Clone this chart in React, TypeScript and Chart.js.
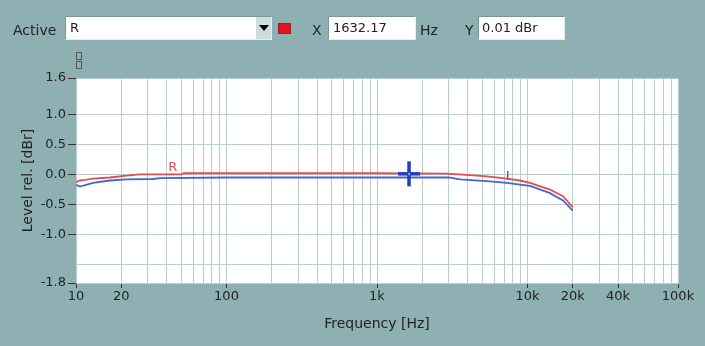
import React, { useEffect, useRef } from "react";
import { Chart, registerables } from "chart.js";

Chart.register(...registerables);

// ---- data ----
const freqR = [10, 10.6, 11.5, 13, 16.8, 21.7, 26.6, 50, 52, 100, 1000, 2900, 4150, 5360, 7300, 8900, 10400, 14100, 17200, 20000];
const levelR = [-0.13, -0.10, -0.09, -0.07, -0.05, -0.02, 0.0, 0.0, 0.02, 0.02, 0.02, 0.015, -0.01, -0.03, -0.07, -0.10, -0.14, -0.25, -0.36, -0.54];

const freqL = [10, 10.6, 13, 16.8, 21.7, 32.4, 36.2, 100, 1000, 3000, 3560, 5360, 7300, 8900, 10400, 14100, 17200, 20000];
const levelL = [-0.17, -0.20, -0.14, -0.10, -0.08, -0.075, -0.06, -0.05, -0.05, -0.05, -0.08, -0.11, -0.14, -0.17, -0.19, -0.31, -0.43, -0.60];

const xTickLabels: Record<number, string> = { 10: "10", 20: "20", 100: "100", 1000: "1k", 10000: "10k", 20000: "20k", 40000: "40k", 100000: "100k" };
const yTicks = [-1.8, -1.5, -1.0, -0.5, 0.0, 0.5, 1.0, 1.6];
const yUnlabeled = [-1.5];

const cursorFreq = 1632.17;
const cursorLevel = 0.01;
const labelRFreq = 44;
const labelRLevel = 0.02;
const labelLFreq = 7300;
const labelLLevel = -0.14;

const decades = [10, 100, 1000, 10000];
const multiples = [1, 2, 3, 4, 5, 6, 7, 8, 9];

const FONT = '"DejaVu Sans", sans-serif';
const BG = "#8fb0b2";
const GRID = "#b9cdd0";
const RED = "#e24d52";
const BLUE = "#4466d0";

const overlay = {
  id: "overlay",
  beforeDraw(chart: any) {
    const { ctx, chartArea: a } = chart;
    ctx.save();
    ctx.fillStyle = "#ffffff";
    ctx.fillRect(a.left, a.top, a.right - a.left, a.bottom - a.top);
    ctx.restore();
  },
  beforeDatasetsDraw(chart: any) {
    const { ctx, scales } = chart;
    const x = scales.x.getPixelForValue(labelLFreq);
    const y = scales.y.getPixelForValue(labelLLevel);
    ctx.save();
    ctx.fillStyle = "#2a44b8";
    ctx.font = `12px ${FONT}`;
    ctx.textAlign = "left";
    ctx.textBaseline = "alphabetic";
    ctx.fillText("L", x - 1, y - 3);
    ctx.restore();
  },
  afterDatasetsDraw(chart: any) {
    const { ctx, scales } = chart;
    ctx.save();
    // R label
    const rx = scales.x.getPixelForValue(labelRFreq);
    const ry = scales.y.getPixelForValue(labelRLevel);
    ctx.fillStyle = RED;
    ctx.font = `13px ${FONT}`;
    ctx.textAlign = "center";
    ctx.textBaseline = "alphabetic";
    ctx.fillText("R", rx, ry - 2);
    // cursor cross
    const cx = scales.x.getPixelForValue(cursorFreq);
    const cy = scales.y.getPixelForValue(cursorLevel);
    ctx.fillStyle = "#1d3fc4";
    ctx.fillRect(cx - 11, cy - 1.75, 22, 3.5);
    ctx.fillRect(cx - 1.75, cy - 12.5, 3.5, 25);
    ctx.fillStyle = "#d98aa0";
    ctx.fillRect(cx - 1, cy - 1, 2, 2);
    ctx.restore();
  },
};

function ChartView() {
  const ref = useRef<HTMLCanvasElement>(null);
  useEffect(() => {
    const gridVals: number[] = [];
    decades.forEach((d) => multiples.forEach((m) => gridVals.push(d * m)));
    gridVals.push(100000);

    const chart = new Chart(ref.current!, {
      type: "line",
      data: {
        datasets: [
          {
            label: "R",
            data: freqR.map((f, i) => ({ x: f, y: levelR[i] })),
            borderColor: RED,
            borderWidth: 1.8,
            pointRadius: 0,
            tension: 0,
          },
          {
            label: "L",
            data: freqL.map((f, i) => ({ x: f, y: levelL[i] })),
            borderColor: BLUE,
            borderWidth: 1.8,
            pointRadius: 0,
            tension: 0,
          },
        ],
      },
      options: {
        animation: false,
        responsive: false,
        devicePixelRatio: 1,
        layout: { padding: { top: 78, right: 27, left: 0, bottom: 0 } },
        plugins: { legend: { display: false }, tooltip: { enabled: false } },
        scales: {
          x: {
            type: "logarithmic",
            min: 10,
            max: 100000,
            afterBuildTicks: (scale: any) => {
              scale.ticks = gridVals.map((v) => ({ value: v }));
            },
            afterFit: (scale: any) => {
              scale.height = 63;
            },
            ticks: {
              autoSkip: false,
              maxRotation: 0,
              padding: 1,
              color: "#222",
              font: { family: FONT, size: 13 },
              callback: (v: any) => xTickLabels[Number(v)] ?? "",
            },
            grid: {
              color: GRID,
              lineWidth: 1,
              tickLength: 5,
              tickColor: (c: any) => (c.tick && xTickLabels[c.tick.value] ? "#333" : "transparent"),
            },
            border: { display: true, color: GRID },
            title: {
              display: true,
              text: "Frequency [Hz]",
              color: "#222",
              font: { family: FONT, size: 14 },
              padding: { top: 0, bottom: 13 },
            },
          },
          y: {
            type: "linear",
            min: -1.8,
            max: 1.6,
            afterBuildTicks: (scale: any) => {
              scale.ticks = yTicks.map((v) => ({ value: v }));
            },
            afterFit: (scale: any) => {
              scale.width = 76;
            },
            ticks: {
              autoSkip: false,
              padding: 2,
              color: "#222",
              font: { family: FONT, size: 13 },
              callback: (v: any) => (yUnlabeled.includes(Number(v)) ? "" : Number(v).toFixed(1)),
            },
            grid: {
              color: GRID,
              lineWidth: 1,
              tickLength: 8,
              tickColor: (c: any) => (c.tick && yUnlabeled.includes(c.tick.value) ? "transparent" : "#333"),
            },
            border: { display: true, color: GRID },
            title: {
              display: true,
              text: "Level rel. [dBr]",
              color: "#222",
              font: { family: FONT, size: 14 },
              padding: { top: 20, bottom: 0 },
            },
          },
        },
      },
      plugins: [overlay],
    } as any);
    return () => chart.destroy();
  }, []);
  return <canvas ref={ref} width={705} height={346} style={{ position: "absolute", left: 0, top: 0, display: "block" }} />;
}

const txt: React.CSSProperties = { position: "absolute", fontFamily: FONT, fontSize: 14, color: "#222", lineHeight: "16px" };
const box: React.CSSProperties = {
  position: "absolute",
  background: "#fff",
  borderTop: "1px solid #7f9496",
  borderLeft: "1px solid #7f9496",
  borderBottom: "1px solid #e4eeee",
  borderRight: "1px solid #e4eeee",
  boxSizing: "border-box",
  fontFamily: FONT,
  fontSize: 13,
  color: "#222",
  lineHeight: "22px",
  paddingLeft: 4,
};

export default function App() {
  return (
    <div style={{ position: "absolute", left: 0, top: 0, width: 705, height: 346, background: BG, overflow: "hidden" }}>
      <ChartView />
      <div style={{ ...txt, left: 13, top: 22 }}>Active</div>
      <div style={{ ...box, left: 65, top: 16, width: 207, height: 24 }}>R</div>
      <div style={{ position: "absolute", left: 256, top: 17, width: 15, height: 22, background: "#cfdcdc" }}>
        <div style={{ position: "absolute", left: 3, top: 8, width: 0, height: 0, borderLeft: "5px solid transparent", borderRight: "5px solid transparent", borderTop: "6px solid #000" }} />
      </div>
      <div style={{ position: "absolute", left: 278, top: 23, width: 13, height: 11, background: "#e8101c", boxSizing: "border-box", border: "1px solid #9a2020" }} />
      <div style={{ ...txt, left: 312, top: 22 }}>X</div>
      <div style={{ ...box, left: 328, top: 16, width: 88, height: 24 }}>1632.17</div>
      <div style={{ ...txt, left: 420, top: 22 }}>Hz</div>
      <div style={{ ...txt, left: 465, top: 22 }}>Y</div>
      <div style={{ ...box, left: 478, top: 16, width: 87, height: 24, paddingLeft: 3 }}>0.01 dBr</div>
      <div style={{ position: "absolute", left: 76, top: 52, width: 6, height: 8, border: "1px solid #555", boxSizing: "border-box" }} />
      <div style={{ position: "absolute", left: 76, top: 61, width: 6, height: 8, border: "1px solid #555", boxSizing: "border-box" }} />
    </div>
  );
}
